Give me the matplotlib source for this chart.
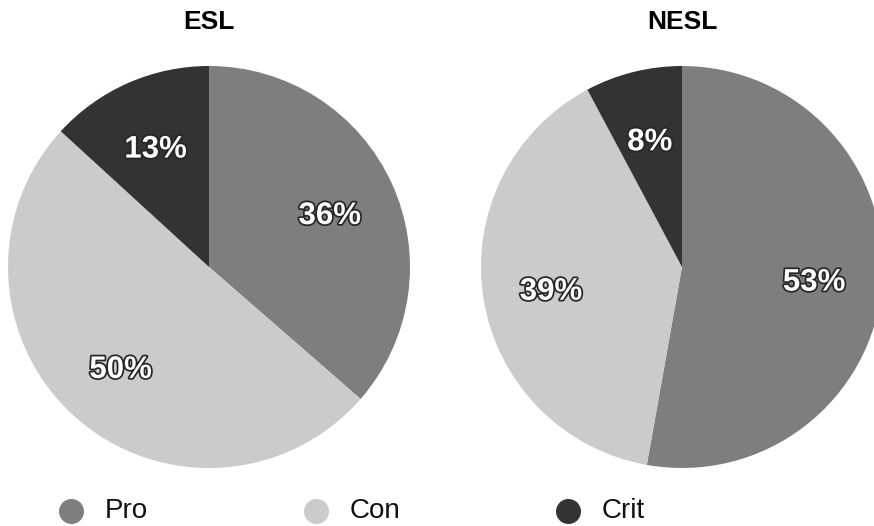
import matplotlib.pyplot as plt
import matplotlib.patheffects as pe
import matplotlib.transforms as mtransforms
from matplotlib.lines import Line2D

plt.rcParams['font.family'] = ['Liberation Sans', 'DejaVu Sans']

categories = ['Pro', 'Con', 'Crit']
esl_values = [36.4, 50.4, 13.2]
nesl_values = [52.8, 39.4, 7.8]
titles = ['ESL', 'NESL']
colors = ['#7e7e7e', '#cbcbcb', '#333333']

W, H = 874, 526
fig = plt.figure(figsize=(W / 100, H / 100), dpi=100)

def pie_axes(cx, cy, r):
	# place a square axes from pixel centre and radius
	return fig.add_axes([(cx - r) / W, (H - cy - r) / H, 2 * r / W, 2 * r / H])

label_fx = [pe.withStroke(linewidth=2.5, foreground='#262626')]

for (cx, values, title) in [(209, esl_values, titles[0]), (682, nesl_values, titles[1])]:
	ax = pie_axes(cx, 267, 201)
	wedges, texts, autotexts = ax.pie(values, colors=colors, startangle=90, counterclock=False,
		autopct='%.0f%%', pctdistance=0.66, radius=1,
		textprops=dict(color='white', fontsize=22.5, fontweight='bold'))
	shift = mtransforms.offset_copy(ax.transData, fig=fig, x=0, y=-4, units='dots')
	for t in autotexts:
		t.set_path_effects(label_fx)
		t.set_transform(shift)
	ax.set_xlim(-1, 1)
	ax.set_ylim(-1, 1)
	ax.set_aspect('equal')
	fig.text(cx / W, 1 - 22 / H, title, ha='center', va='center', fontsize=19, fontweight='bold')

# legend row along the bottom
marker_x = [71, 316, 568]
for name, col, mx in zip(categories, colors, marker_x):
	fig.add_artist(Line2D([mx / W], [1 - 511 / H], marker='o', markersize=17, color=col,
		linestyle='none', transform=fig.transFigure))
	fig.text((mx + 34) / W, 1 - 511 / H, name, ha='left', va='center', fontsize=20, color='#111111')

fig.savefig('out.png', dpi=100)
